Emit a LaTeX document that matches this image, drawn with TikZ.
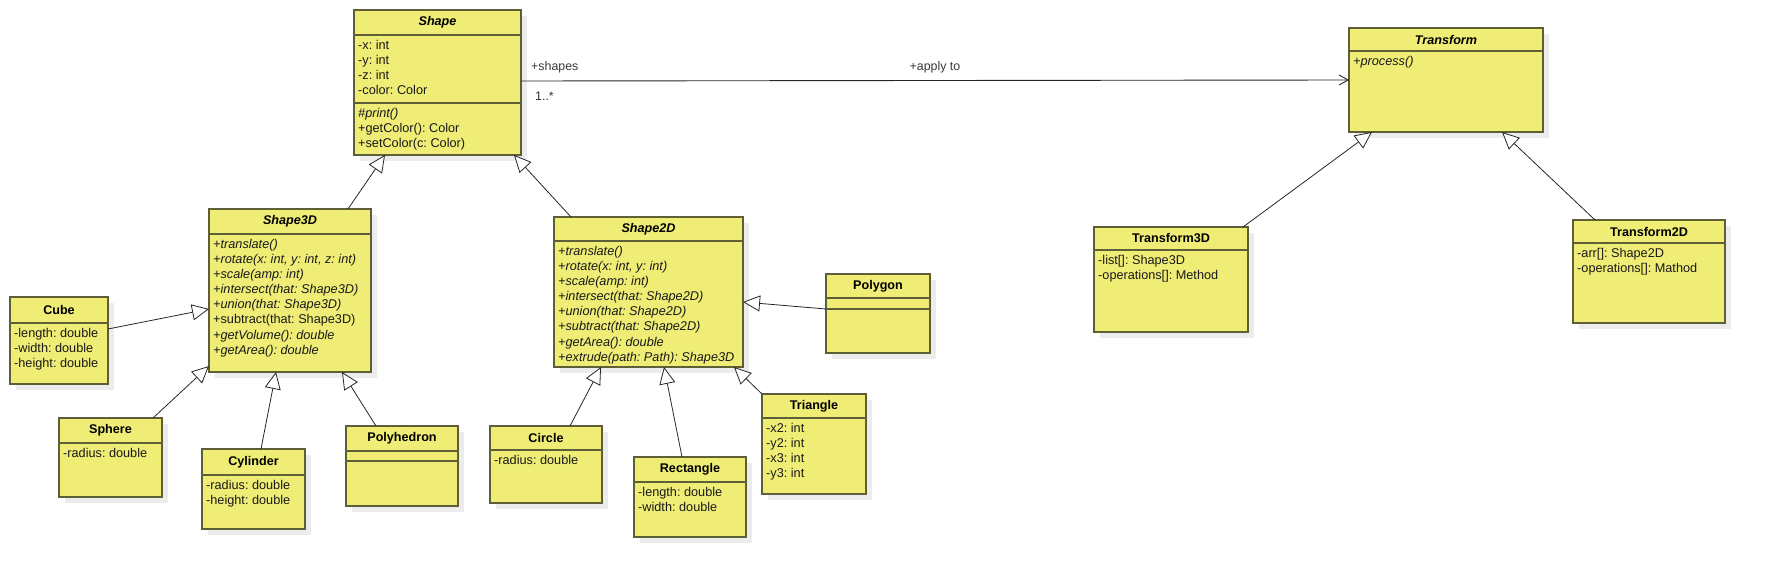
\documentclass[tikz,border=0pt]{standalone}
\usepackage{fontspec}
\setmainfont{Liberation Sans}
\usetikzlibrary{arrows.meta,calc}
\frenchspacing
\definecolor{boxfill}{RGB}{239,237,118}
\definecolor{boxdraw}{RGB}{95,95,55}
\definecolor{shadowc}{RGB}{236,236,236}
\definecolor{txt}{RGB}{25,25,25}
\definecolor{lbl}{RGB}{55,55,55}
\tikzset{
  cbox/.style={draw=boxdraw, fill=boxfill, line width=1.3pt, inner sep=0pt, outer sep=0pt},
  sepline/.style={draw=boxdraw, line width=1.3pt},
  ctitle/.style={font=\fontsize{12.6}{15}\selectfont\bfseries, text=black, inner sep=0pt},
  atitle/.style={font=\fontsize{12.6}{15}\selectfont\bfseries\itshape, text=black, inner sep=0pt},
  mem/.style={font=\fontsize{12.7}{15.1}\selectfont, text=txt, align=left, inner sep=0pt, anchor=north west},
  gen/.style={draw=black!85, line width=0.8pt, -{Triangle[length=17pt,width=16pt,fill=white,line width=0.8pt]}},
  assoc/.style={draw=black!85, line width=0.9pt, -{Straight Barb[length=9pt,width=10pt,line width=0.9pt]}},
  lab/.style={font=\fontsize{12.4}{14}\selectfont, text=lbl, inner sep=0pt},
}
% #1 name, #2 x, #3 y, #4 w, #5 h, #6 header height, #7 title style, #8 title
\newcommand{\classbox}[8]{%
  \fill[shadowc] (#2+6,#3+6) rectangle ++(#4,#5);
  \node[cbox, minimum width=#4pt, minimum height=#5pt, anchor=north west] (#1) at (#2,#3) {};
  \draw[sepline] ($(#1.north west)+(0,#6)$) -- ($(#1.north east)+(0,#6)$);
  \node[#7] (#1-t) at ($(#1.north)+(0,#6/2)$) {#8};
}
\begin{document}
\begin{tikzpicture}[x=1pt,y=-1pt]
\useasboundingbox (0,0) rectangle (1766,578);

% ---- classes ----
\classbox{shape}{354}{10}{167}{145}{25}{atitle}{Shape}
\draw[sepline] ($(shape.north west)+(0,93)$) -- ($(shape.north east)+(0,93)$);
\node[mem] (shape-a) at ($(shape.north west)+(4,30)$) {-x: int\\-y: int\\-z: int\\-color: Color};
\node[mem] (shape-m) at ($(shape.north west)+(4,98)$) {\textit{\#print()}\\+getColor(): Color\\+setColor(c: Color)};

\classbox{transform}{1349}{28}{194}{104}{23}{atitle}{Transform}
\node[mem] (transform-m) at ($(transform.north west)+(4,28)$) {\textit{+process()}};

\classbox{transform3d}{1094}{227}{154}{105}{23}{ctitle}{Transform3D}
\node[mem] (transform3d-a) at ($(transform3d.north west)+(4,28)$) {-list[]: Shape3D\\-operations[]: Method};

\classbox{transform2d}{1573}{220}{152}{103}{23}{ctitle}{Transform2D}
\node[mem] (transform2d-a) at ($(transform2d.north west)+(4,28)$) {-arr[]: Shape2D\\-operations[]: Mathod};

\classbox{shape3d}{209}{209}{162}{163}{25}{atitle}{Shape3D}
\node[mem] (shape3d-m) at ($(shape3d.north west)+(4,30)$) {\textit{+translate()}\\\textit{+rotate(x: int, y: int, z: int)}\\\textit{+scale(amp: int)}\\\textit{+intersect(that: Shape3D)}\\\textit{+union(that: Shape3D)}\\+subtract(that: Shape3D)\\\textit{+getVolume(): double}\\\textit{+getArea(): double}};

\classbox{shape2d}{554}{217}{189}{150}{24}{atitle}{Shape2D}
\node[mem] (shape2d-m) at ($(shape2d.north west)+(4,29)$) {\textit{+translate()}\\\textit{+rotate(x: int, y: int)}\\\textit{+scale(amp: int)}\\\textit{+intersect(that: Shape2D)}\\\textit{+union(that: Shape2D)}\\\textit{+subtract(that: Shape2D)}\\\textit{+getArea(): double}\\\textit{+extrude(path: Path): Shape3D}};

\classbox{polygon}{826}{274}{104}{79}{24}{ctitle}{Polygon}
\draw[sepline] ($(polygon.north west)+(0,35)$) -- ($(polygon.north east)+(0,35)$);

\classbox{cube}{10}{297}{98}{87}{26}{ctitle}{Cube}
\node[mem] (cube-a) at ($(cube.north west)+(4,31)$) {-length: double\\-width: double\\-height: double};

\classbox{sphere}{59}{418}{103}{79}{25}{ctitle}{Sphere}
\node[mem] (sphere-a) at ($(sphere.north west)+(4,30)$) {-radius: double};

\classbox{cylinder}{202}{449}{103}{80}{26}{ctitle}{Cylinder}
\node[mem] (cylinder-a) at ($(cylinder.north west)+(4,31)$) {-radius: double\\-height: double};

\classbox{polyhedron}{346}{426}{112}{80}{25}{ctitle}{Polyhedron}
\draw[sepline] ($(polyhedron.north west)+(0,35)$) -- ($(polyhedron.north east)+(0,35)$);

\classbox{circle}{490}{426}{112}{77}{24}{ctitle}{Circle}
\node[mem] (circle-a) at ($(circle.north west)+(4,29)$) {-radius: double};

\classbox{rectangle}{634}{457}{112}{80}{25}{ctitle}{Rectangle}
\node[mem] (rectangle-a) at ($(rectangle.north west)+(4,30)$) {-length: double\\-width: double};

\classbox{triangle}{762}{394}{104}{100}{24}{ctitle}{Triangle}
\node[mem] (triangle-a) at ($(triangle.north west)+(4,29)$) {-x2: int\\-y2: int\\-x3: int\\-y3: int};

% ---- generalizations ----
\draw[gen] ($(shape3d.north west)+(139,0)$) -- ($(shape.south west)+(31,0)$);
\draw[gen] ($(shape2d.north west)+(17,0)$) -- ($(shape.south west)+(160,0)$);
\draw[gen] ($(cube.north east)+(0,32)$) -- ($(shape3d.north west)+(0,100)$);
\draw[gen] ($(sphere.north west)+(94,0)$) -- ($(shape3d.south west)+(0,-6)$);
\draw[gen] ($(cylinder.north west)+(59,0)$) -- ($(shape3d.south west)+(67,0)$);
\draw[gen] ($(polyhedron.north west)+(30,0)$) -- ($(shape3d.south west)+(133,0)$);
\draw[gen] ($(polygon.north west)+(0,35)$) -- ($(shape2d.north east)+(0,85)$);
\draw[gen] ($(circle.north west)+(80,0)$) -- ($(shape2d.south west)+(47,0)$);
\draw[gen] ($(rectangle.north west)+(48,0)$) -- ($(shape2d.south west)+(110,0)$);
\draw[gen] (triangle.north west) -- ($(shape2d.south west)+(180,0)$);
\draw[gen] ($(transform3d.north west)+(149,0)$) -- ($(transform.south west)+(23,0)$);
\draw[gen] ($(transform2d.north west)+(22,0)$) -- ($(transform.south west)+(153,0)$);

% ---- association ----
\draw[assoc] ($(shape.north east)+(0,71)$) -- node[lab, pos=0.5, yshift=13.5pt] (lapply) {+apply to} ($(transform.north west)+(0,52)$);
\node[lab, anchor=west] (lshapes) at ($(shape.north east)+(10,57)$) {+shapes};
\node[lab, anchor=west] (lmult) at ($(shape.north east)+(14,86)$) {1..*};
\end{tikzpicture}
\end{document}
